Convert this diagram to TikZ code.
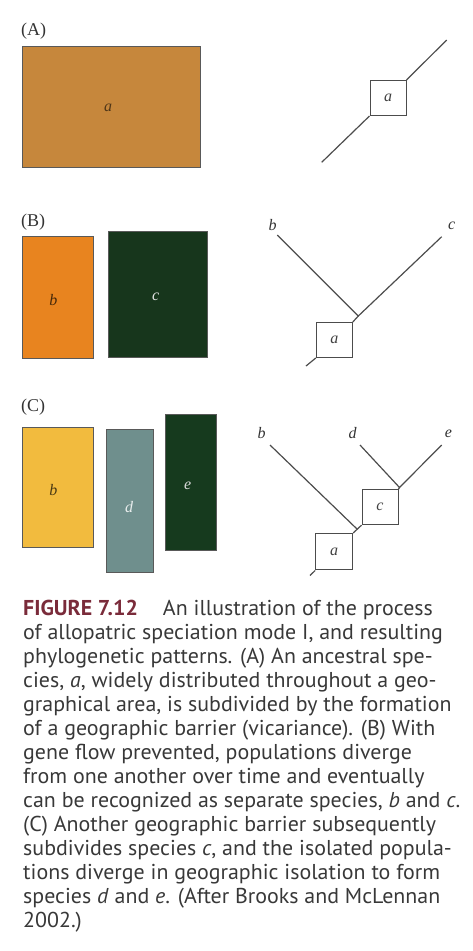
\documentclass[tikz,border=0pt]{standalone}
\usepackage{fontspec}
\setmainfont{Liberation Serif}
\newfontfamily\capfont[FakeStretch=1.02]{PT Sans}
\begin{document}
\begin{tikzpicture}[x=1pt,y=-1pt,
  region/.style={draw=black!65,line width=0.8pt},
  tline/.style={draw=black!70,line width=1.2pt},
  sq/.style={draw=black!70,line width=1pt,fill=white,minimum width=36pt,minimum height=35pt,inner sep=0pt,font=\itshape\fontsize{16}{16}\selectfont,text=black!75},
  lab/.style={font=\itshape\fontsize{16}{16}\selectfont,text=black!80,inner sep=0pt},
  panel/.style={font=\fontsize{18}{18}\selectfont,text=black!80,inner sep=0pt,anchor=west},
  captxt/.style={anchor=base west,inner sep=0pt,font=\capfont\fontsize{21.5}{21.5}\selectfont,text=black!78}]
\useasboundingbox (0,0) rectangle (473,951);
\definecolor{regA}{RGB}{198,135,60}
\definecolor{regBb}{RGB}{232,132,31}
\definecolor{regBc}{RGB}{23,54,28}
\definecolor{regCb}{RGB}{242,187,62}
\definecolor{regCd}{RGB}{111,143,141}
\definecolor{regCe}{RGB}{22,58,30}
\definecolor{figred}{RGB}{122,43,58}

% ---------- (A) ----------
\node[panel] (pA) at (21,31) {(A)};
\filldraw[region,fill=regA] (22.7,46.7) rectangle (200.7,167.7);
\node[lab,text=black!60!regA] (rA) at (108,108) {a};
\node[sq] (Aa) at (388,98) {a};
\coordinate (Alow) at (321.7,162.3);
\coordinate (Ahigh) at (446.7,40);
\draw[tline] (Aa.south west) -- (Alow);
\draw[tline] (Aa.north east) -- (Ahigh);

% ---------- (B) ----------
\node[panel] (pB) at (21,222) {(B)};
\filldraw[region,fill=regBb] (22.3,236.7) rectangle (93.3,358.3);
\filldraw[region,fill=regBc] (108.3,231.7) rectangle (207.3,357.7);
\node[lab,text=black!70!regBb] (rBb) at (53.3,300) {b};
\node[lab,text=white!90!black] (rBc) at (155.7,296.7) {c};
\node[sq] (Ba) at (334.3,340) {a};
\coordinate (Bj) at (358.3,316);
\coordinate (Bbt) at (277.3,235);
\coordinate (Bct) at (441.7,236.7);
\coordinate (Blow) at (306,366);
\node[lab] (Bb) at (272.7,225) {b};
\node[lab] (Bc) at (451.7,226) {c};
\draw[tline] (Bbt) -- (Bj) -- (Bct);
\draw[tline] (Ba.north east) -- (Bj);
\draw[tline] (Ba.south west) -- (Blow);

% ---------- (C) ----------
\node[panel] (pC) at (21,407) {(C)};
\filldraw[region,fill=regCb] (22.3,427.3) rectangle (93.3,547.7);
\filldraw[region,fill=regCd] (106,429.3) rectangle (153.3,572.7);
\filldraw[region,fill=regCe] (165.7,414) rectangle (216,550);
\node[lab,text=black!70!regCb] (rCb) at (53.3,490) {b};
\node[lab,text=white!85!regCd] (rCd) at (129,506.7) {d};
\node[lab,text=white!85!black] (rCe) at (187.7,485.7) {e};
\node[sq,minimum width=37pt,minimum height=36.5pt] (Ca) at (334.2,551.7) {a};
\node[sq] (Cc) at (380,507.2) {c};
\coordinate (Cj1) at (357.2,529.2);
\coordinate (Cj2) at (399.5,487.5);
\coordinate (Cbt) at (270,445);
\coordinate (Cdt) at (360,445);
\coordinate (Cet) at (441.7,445);
\coordinate (Clow) at (310,575.5);
\node[lab] (Cb) at (261.7,433.3) {b};
\node[lab] (Cd) at (352.7,433.3) {d};
\node[lab] (Ce) at (448.3,434) {e};
\draw[tline] (Cbt) -- (Cj1);
\draw[tline] (Ca.north east) -- (Cc.south west);
\draw[tline] (Cc.north east) -- (Cj2);
\draw[tline] (Cdt) -- (Cj2) -- (Cet);
\draw[tline] (Ca.south west) -- (Clow);

% ---------- caption ----------
\node[captxt] (l1) at (23,615) {{\bfseries\color{figred}FIGURE 7.12}\hspace{25pt}An illustration of the process};
\node[captxt] (l2) at (23,639) {of allopatric speciation mode I, and resulting};
\node[captxt] (l3) at (23,663) {phylogenetic patterns. (A) An ancestral spe-};
\node[captxt] (l4) at (23,687) {cies, \textit{a}, widely distributed throughout a geo-};
\node[captxt] (l5) at (23,711) {graphical area, is subdivided by the formation};
\node[captxt] (l6) at (23,735) {of a geographic barrier (vicariance). (B) With};
\node[captxt] (l7) at (23,759) {gene flow prevented, populations diverge};
\node[captxt] (l8) at (23,783) {from one another over time and eventually};
\node[captxt] (l9) at (23,807) {can be recognized as separate species, \textit{b} and \textit{c}.};
\node[captxt] (l10) at (23,831) {(C) Another geographic barrier subsequently};
\node[captxt] (l11) at (23,855) {subdivides species \textit{c}, and the isolated popula-};
\node[captxt] (l12) at (23,879) {tions diverge in geographic isolation to form};
\node[captxt] (l13) at (23,903) {species \textit{d} and \textit{e}. (After Brooks and McLennan};
\node[captxt] (l14) at (23,927) {2002.)};
\end{tikzpicture}
\end{document}
